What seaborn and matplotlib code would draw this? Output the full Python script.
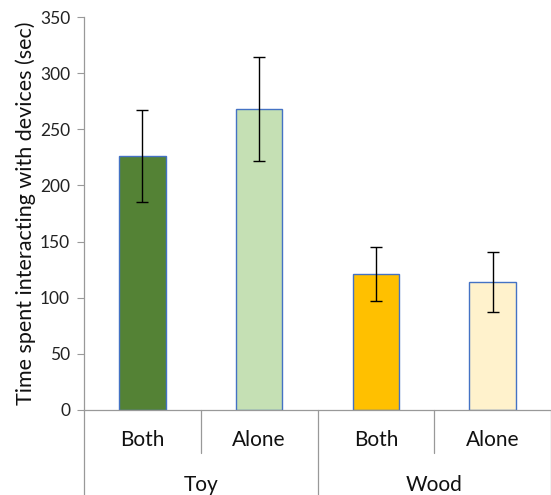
import matplotlib
matplotlib.use("Agg")
import matplotlib.pyplot as plt
import matplotlib.transforms as mtransforms
import seaborn as sns
import pandas as pd

# Mean interaction time per condition, with error (± sec)
conditions = ["Both", "Alone", "Both", "Alone"]
groups = ["Toy", "Wood"]
means = [226, 268, 121, 114]
errors = [41, 46, 24, 26.5]
bar_colors = ["#548235", "#C5E0B4", "#FFC000", "#FFF2CC"]
y_ticks = [0, 50, 100, 150, 200, 250, 300, 350]

sns.set_theme(style="white")
plt.rcParams["font.family"] = ["Lato", "DejaVu Sans"]

df = pd.DataFrame({
    "slot": [f"{g}-{c}" for g, c in zip(["Toy", "Toy", "Wood", "Wood"], conditions)],
    "mean": means,
})

fig = plt.figure(figsize=(5.51, 4.95), dpi=100)
ax = fig.add_axes([84 / 551, 1 - 410 / 495, 467 / 551, (410 - 17) / 495])

sns.barplot(data=df, x="slot", y="mean", hue="slot", palette=bar_colors,
            saturation=1, width=0.4, edgecolor="#4472C4", linewidth=1.0,
            legend=False, ax=ax)
xpos = list(range(len(means)))
ax.errorbar(xpos, means, yerr=errors, fmt="none", ecolor="black",
            elinewidth=1.0, capsize=4, capthick=1.0)

ax.set_xlim(-0.5, len(means) - 0.5)
ax.set_ylim(0, 350)
ax.set_yticks(y_ticks)
ax.tick_params(axis="y", labelsize=12.5, length=5, width=0.8, color="#999999",
               left=True, pad=5, labelcolor="#222222")
ax.set_xticks([])
ax.set_xlabel("")
ax.set_ylabel("Time spent interacting with devices (sec)", fontsize=15.5,
              color="#111111", labelpad=3)

for side in ["top", "right"]:
    ax.spines[side].set_visible(False)
for side in ["left", "bottom"]:
    ax.spines[side].set_color("#999999")
    ax.spines[side].set_linewidth(0.9)

# Two-level category axis below the plot
trans = mtransforms.blended_transform_factory(ax.transData, fig.transFigure)
y0 = 1 - 410 / 495
y_mid = 1 - 453 / 495
for i, cond in enumerate(conditions):
    ax.text(i, 1 - 440 / 495, cond, transform=trans, ha="center", va="center",
            fontsize=15, color="#111111")
for j, grp in enumerate(groups):
    ax.text(2 * j + 0.5, 1 - 485 / 495, grp, transform=trans, ha="center",
            va="center", fontsize=15, color="#111111")
# short separators between conditions, long ones between groups
for xb in [0.5, 2.5]:
    ax.plot([xb, xb], [y0, y_mid], transform=trans, color="#999999",
            lw=0.9, clip_on=False)
for xb in [-0.5, 1.5, 3.5]:
    ax.plot([xb, xb], [y0, 0], transform=trans, color="#999999",
            lw=0.9, clip_on=False)

fig.savefig("out.png", dpi=100)
